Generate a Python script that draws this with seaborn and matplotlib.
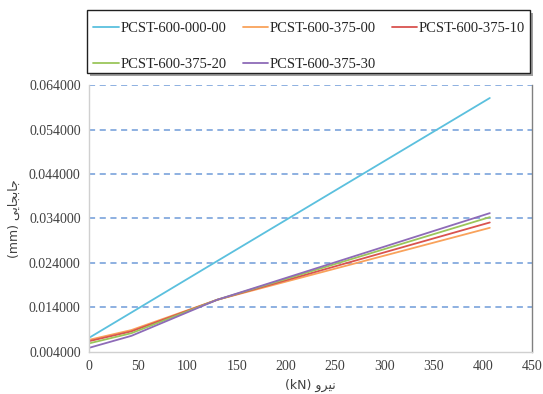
import matplotlib
import numpy as np
import pandas as pd
import seaborn as sns
from matplotlib.patches import FancyBboxPatch

matplotlib.use("Agg")
import matplotlib.pyplot as plt


# load in kN
force = [0, 43, 130, 407]
series_names = [
    "PCST-600-000-00",
    "PCST-600-375-00",
    "PCST-600-375-10",
    "PCST-600-375-20",
    "PCST-600-375-30",
]
disp_000_00 = [0.00715, 0.01285, 0.02440, 0.06110]
disp_375_00 = [0.00670, 0.00890, 0.01570, 0.03190]
disp_375_10 = [0.00640, 0.00860, 0.01570, 0.03310]
disp_375_20 = [0.00590, 0.00820, 0.01570, 0.03430]
disp_375_30 = [0.00490, 0.00760, 0.01570, 0.03520]
colors = ["#5BC0DE", "#F9A25B", "#D9534F", "#9BC65A", "#8E6BB8"]
y_ticks = [0.004, 0.014, 0.024, 0.034, 0.044, 0.054, 0.064]
x_ticks = [0, 50, 100, 150, 200, 250, 300, 350, 400, 450]

# Persian labels written in presentation forms (visual order) since matplotlib does no shaping
x_label = "(kN) \uFEED\uFEAE\uFBFF\uFEE7"
y_label = "(mm) \uFBFD\uFBFE\uFE8E\uFEA0\uFE91\uFE8E\uFE9F"


def build_frame() -> pd.DataFrame:
    all_values = [disp_000_00, disp_375_00, disp_375_10, disp_375_20, disp_375_30]
    rows = []
    for name, values in zip(series_names, all_values):
        for f, v in zip(force, values):
            rows.append({"force": f, "disp": v, "series": name})
    return pd.DataFrame(rows)


def main() -> None:
    sns.set_theme(style="white")
    plt.rcParams["font.family"] = ["Liberation Serif", "DejaVu Serif"]

    df = build_frame()

    fig = plt.figure(figsize=(5.43, 3.94), dpi=100)
    ax = fig.add_axes([0.164, 0.107, 0.816, 0.677])

    sns.lineplot(
        data=df,
        x="force",
        y="disp",
        hue="series",
        hue_order=series_names,
        palette=colors,
        linewidth=1.3,
        ax=ax,
        legend=False,
    )

    ax.set_xlim(0, 450)
    ax.set_ylim(0.004, 0.064)
    ax.set_xticks(x_ticks)
    ax.set_yticks(y_ticks)
    ax.set_yticklabels([f"{t:.6f}" for t in y_ticks])
    ax.tick_params(axis="both", labelsize=10, colors="#404040", length=0, pad=6)

    for t in y_ticks[1:]:
        ax.axhline(t, color="#6F9BD8", linestyle=(0, (4, 3)), linewidth=1.1, zorder=0)

    for side in ["left", "bottom"]:
        ax.spines[side].set_color("#D0D0D0")
        ax.spines[side].set_linewidth(1.0)
    ax.spines["right"].set_color("#808080")
    ax.spines["right"].set_linewidth(1.0)
    ax.spines["top"].set_visible(False)

    ax.set_xlabel(x_label, family=["DejaVu Sans"], fontsize=9, color="#404040", labelpad=4)
    ax.set_ylabel(y_label, family=["DejaVu Sans"], fontsize=9, color="#404040", labelpad=6)

    # legend box with drop shadow above the plot
    shadow = FancyBboxPatch(
        (0.166, 0.808), 0.815, 0.160,
        boxstyle="square,pad=0", transform=fig.transFigure,
        facecolor="#A0A0A0", edgecolor="none", zorder=1,
    )
    box = FancyBboxPatch(
        (0.161, 0.815), 0.815, 0.160,
        boxstyle="square,pad=0", transform=fig.transFigure,
        facecolor="white", edgecolor="#202020", linewidth=1.0, zorder=2,
    )
    fig.patches.extend([shadow, box])

    # matplotlib fills legend columns first, so reorder to read row by row
    order = [0, 3, 1, 4, 2]
    handles = [plt.Line2D([0], [0], color=colors[i], linewidth=1.3) for i in order]
    labels = [series_names[i] for i in order]
    fig.legend(
        handles,
        labels,
        loc="upper left",
        bbox_to_anchor=(0.160, 0.962),
        ncol=3,
        frameon=False,
        fontsize=10.5,
        handlelength=1.75,
        handletextpad=0.1,
        columnspacing=1.1,
        labelspacing=1.6,
        borderaxespad=0.0,
        borderpad=0.45,
    )

    fig.savefig("out.png", dpi=100)
    plt.close(fig)


if __name__ == "__main__":
    main()
